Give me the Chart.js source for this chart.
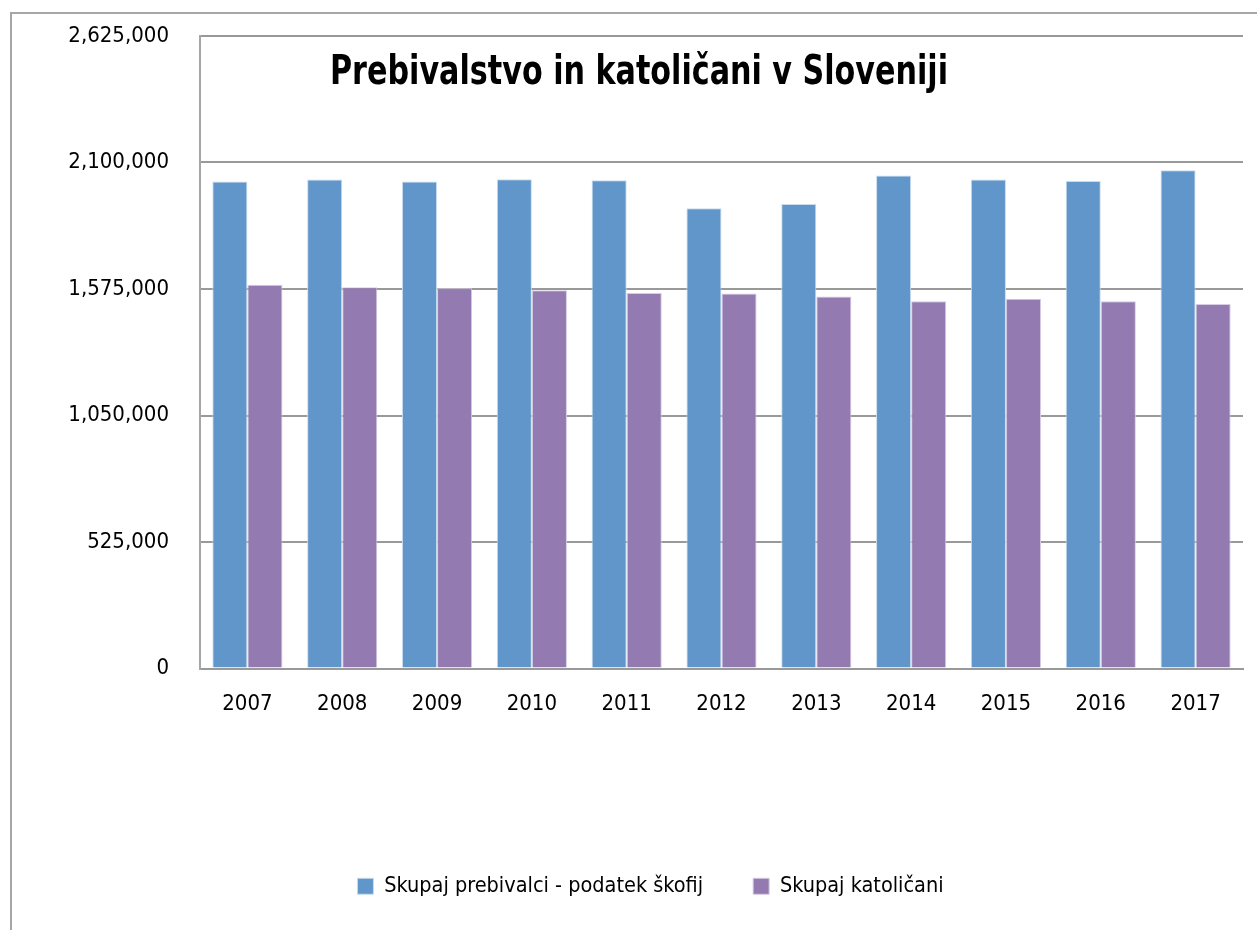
<!DOCTYPE html>
<html>
<head>
<meta charset="utf-8">
<script src="https://cdn.jsdelivr.net/npm/chart.js@4/dist/chart.umd.min.js"></script>
<style>
  html, body { margin: 0; padding: 0; background: #fff; overflow: hidden; }
  #wrap { position: relative; width: 1257px; height: 930px; }
  #frame { position: absolute; left: 10px; top: 12px; width: 1400px; height: 1000px; border: 2px solid #a6a6a6; }
  #chart { position: absolute; left: 0; top: 0; }
</style>
</head>
<body>
<div id="wrap">
  <div id="frame"></div>
  <canvas id="chart" width="1257" height="930"></canvas>
</div>
<script>
// Values
const years = ['2007', '2008', '2009', '2010', '2011', '2012', '2013', '2014', '2015', '2016', '2017'];
const prebivalci = [2021000, 2029000, 2021000, 2031000, 2026500, 1910000, 1928000, 2046000, 2029000, 2023500, 2068000];
const katolicani = [1593000, 1582000, 1578000, 1569500, 1558500, 1556000, 1543500, 1524000, 1535000, 1524000, 1512500];
const yTicks = [0, 525000, 1050000, 1575000, 2100000, 2625000];

const chartTitle = 'Prebivalstvo in katoličani v Sloveniji';
const seriesNames = ['Skupaj prebivalci - podatek škofij', 'Skupaj katoličani'];
const seriesColors = ['#6096c9', '#937bb1'];

const narrowFont = "'Liberation Sans Narrow', 'DejaVu Sans Condensed', sans-serif";
const tickFont = "'DejaVu Sans Condensed', 'Liberation Sans Narrow', sans-serif";

// Title sits inside the plot area in the reference
const innerTitle = {
    id: 'innerTitle',
    afterLayout(chart) {
        // legend is a bit right of the canvas centre in the original
        chart.legend.left += 29;
        chart.legend.right += 29;
        chart.legend.top -= 3;
        chart.legend.bottom -= 3;
    },
    afterDraw(chart) {
        const ctx = chart.ctx;
        const area = chart.chartArea;
        ctx.save();
        ctx.font = `bold 41px ${narrowFont}`;
        ctx.fillStyle = '#000';
        ctx.textAlign = 'center';
        ctx.textBaseline = 'middle';
        // squeeze to the condensed width of the original title
        ctx.fillText(chartTitle, 639, area.top + 37, 618);
        ctx.restore();
    }
};

const ctx = document.getElementById('chart').getContext('2d');
const chart = new Chart(ctx, {
    type: 'bar',
    data: {
        labels: years,
        datasets: [
            {
                label: seriesNames[0],
                data: prebivalci,
                backgroundColor: seriesColors[0],
                borderColor: '#c9dcee',
                borderWidth: 1
            },
            {
                label: seriesNames[1],
                data: katolicani,
                backgroundColor: seriesColors[1],
                borderColor: '#d6cce3',
                borderWidth: 1
            }
        ]
    },
    options: {
        responsive: false,
        animation: false,
        layout: { padding: { top: 36, right: 14, bottom: 20, left: 0 } },
        scales: {
            x: {
                grid: { display: false, drawTicks: false },
                border: { color: '#999', width: 2 },
                ticks: { color: '#000', padding: 23, font: { family: tickFont, size: 22 } },
                afterFit(scale) { scale.height = 160; }
            },
            y: {
                min: 0,
                max: 2625000,
                afterBuildTicks(scale) { scale.ticks = yTicks.map(v => ({ value: v })); },
                grid: { color: '#999', lineWidth: 2, drawTicks: false },
                border: { color: '#a6a6a6', width: 2 },
                ticks: {
                    color: '#000',
                    padding: 31,
                    font: { family: tickFont, size: 22 },
                    callback: v => v.toLocaleString('en-US')
                },
                afterFit(scale) {
                    scale.width = 200;
                    scale.paddingTop = 0;
                    scale.paddingBottom = 0;
                }
            }
        },
        datasets: { bar: { categoryPercentage: 0.74, barPercentage: 1 } },
        plugins: {
            legend: {
                position: 'bottom',
                labels: {
                    color: '#000',
                    boxWidth: 16,
                    boxHeight: 16,
                    padding: 50,
                    font: { family: narrowFont, size: 21.5 }
                }
            },
            title: { display: false },
            tooltip: { enabled: false }
        }
    },
    plugins: [innerTitle]
});
</script>
</body>
</html>
